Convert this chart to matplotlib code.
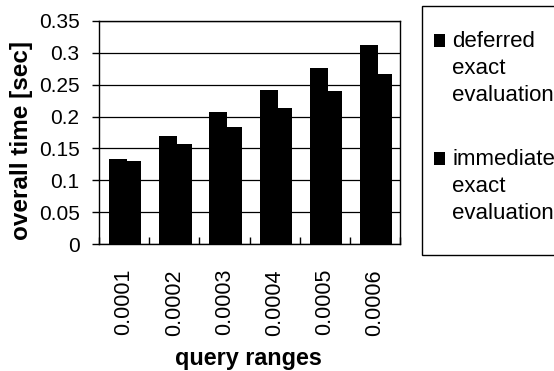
import matplotlib
matplotlib.use("Agg")
import matplotlib.pyplot as plt
import matplotlib.patches as mpatches
import numpy as np

plt.rcParams['font.family'] = ['Liberation Sans', 'DejaVu Sans']

# Data
ranges = ['0.0001', '0.0002', '0.0003', '0.0004', '0.0005', '0.0006']
deferred = [0.133, 0.170, 0.207, 0.241, 0.277, 0.312]
immediate = [0.130, 0.157, 0.184, 0.213, 0.240, 0.267]
labels = ['deferred\nexact\nevaluation', 'immediate\nexact\nevaluation']
yticks = [0, 0.05, 0.1, 0.15, 0.2, 0.25, 0.3, 0.35]

W, H = 554, 371
fig = plt.figure(figsize=(W / 100, H / 100), dpi=100)
ax = fig.add_axes([99 / W, (H - 244) / H, (400 - 99) / W, (244 - 21) / H])

x = np.arange(len(ranges))
ax.bar(x - 0.12, deferred, width=0.36, color='black', zorder=3)
ax.bar(x + 0.20, immediate, width=0.29, color='black', zorder=3)

ax.set_xlim(-0.5, len(ranges) - 0.5)
ax.set_ylim(0, 0.35)
ax.set_yticks(yticks)
ax.set_yticklabels([f'{v:g}' for v in yticks])
ax.yaxis.grid(True, color='black', linewidth=0.9, zorder=1)
ax.set_axisbelow(True)

ax.set_xticks(x)
ax.set_xticklabels(ranges, rotation=90)
ax.set_xticks(np.arange(len(ranges) + 1) - 0.5, minor=True)
ax.tick_params(axis='x', which='major', length=0, pad=18, labelsize=15.5)
ax.tick_params(axis='x', which='minor', direction='in', length=5, width=1)
ax.tick_params(axis='y', direction='out', length=5, width=1, labelsize=15, pad=9)

for s in ax.spines.values():
    s.set_linewidth(1)
    s.set_color('black')

ax.set_ylabel('overall time [sec]', fontsize=17.5, fontweight='bold')
ax.yaxis.set_label_coords(-78 / 301, 1 - (140 - 21) / 223)
ax.set_xlabel('query ranges', fontsize=16.8, fontweight='bold')
ax.xaxis.set_label_coords((248 - 99) / 301, -(358 - 244) / 223)
ax.xaxis.label.set_va('center')
ax.yaxis.label.set_va('center')

# Legend box, drawn by hand so the squares line up with the first line
fig.patches.append(mpatches.Rectangle((422 / W, (H - 255) / H), (W + 10 - 422) / W,
                                      (255 - 6) / H, transform=fig.transFigure,
                                      facecolor='white', edgecolor='black', linewidth=1))
for i, lab in enumerate(labels):
    ytop = 40 + i * 118
    fig.patches.append(mpatches.Rectangle((434 / W, (H - ytop - 7) / H), 11 / W, 13 / H,
                                          transform=fig.transFigure, facecolor='black'))
    fig.text(452 / W, (H - ytop + 9) / H, lab, fontsize=16, va='top', ha='left',
             linespacing=1.38)

fig.savefig('out.png', dpi=100)
